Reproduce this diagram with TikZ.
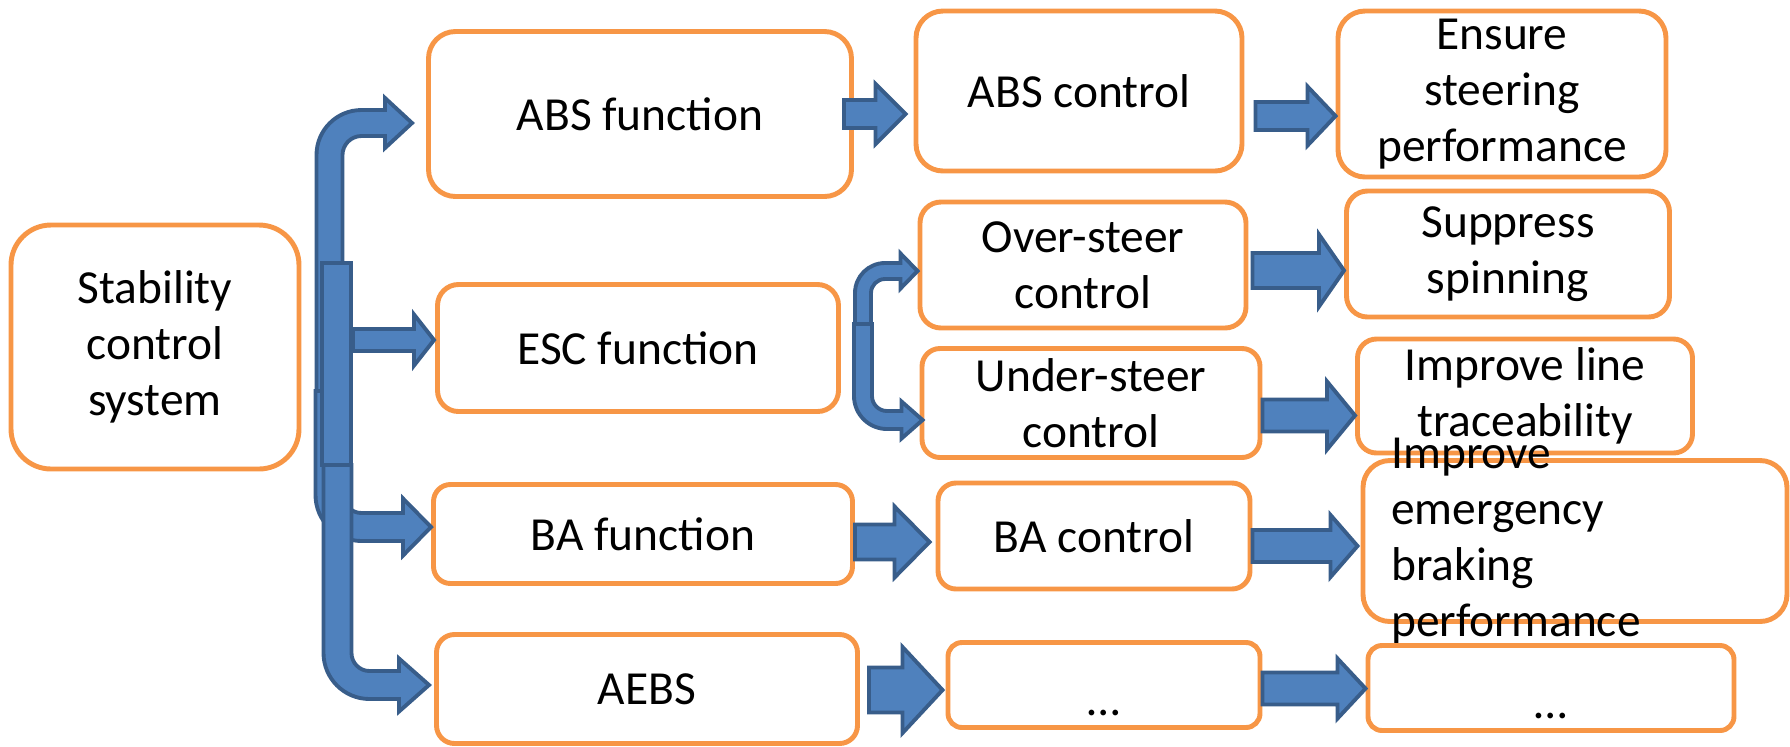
\documentclass[tikz,border=0pt]{standalone}
\usepackage{fontspec}
\setmainfont{Carlito}
\usetikzlibrary{calc}
\definecolor{boxorange}{HTML}{F79646}
\definecolor{arrfill}{HTML}{4F81BD}
\definecolor{arrline}{HTML}{385D8A}
\newcommand{\lbl}{\fontsize{13.5}{16}\selectfont}
\tikzset{
  shaft/.store in=\aShaft, headw/.store in=\aHeadW,
  headl/.store in=\aHeadL, bendr/.store in=\aBend,
  shaft=1.5mm, headw=3.2mm, headl=2.8mm, bendr=3.2mm,
  box/.style ={draw=boxorange,line width=1.4pt,fill=white,rounded corners=2.7mm,
               align=center,font=\lbl,inner sep=0pt},
  dots/.style={box,rounded corners=1.4mm,minimum height=8.5mm,
               text height=17.6pt,text depth=0pt},
  txt/.style ={align=left,font=\lbl,inner sep=0pt},
  blk/.style ={fill=arrfill,draw=arrline,line width=1.1pt,line join=miter},
  fat/.style ={blk,to path={let \p1=(\tikztostart),\p2=(\tikztotarget) in
      (\x1,{\y1+\aShaft}) -- ({\x2-\aHeadL},{\y1+\aShaft})
      -- ({\x2-\aHeadL},{\y1+\aHeadW}) -- (\x2,\y1)
      -- ({\x2-\aHeadL},{\y1-\aHeadW}) -- ({\x2-\aHeadL},{\y1-\aShaft})
      -- (\x1,{\y1-\aShaft}) -- cycle}},
  bent/.style={blk,to path={let \p1=(\tikztostart),\p2=(\tikztotarget),
      \n1={sign(\y2-\y1)},\n2={\aBend+\aShaft},\n3={\aBend-\aShaft} in
      ({\x1-\aShaft},\y1) -- ({\x1-\aShaft},{\y2-(\n1)*\aBend})
      .. controls ({\x1-\aShaft},{\y2-(\n1)*(\aBend-0.552*\n2)})
             and ({\x1+\aBend-0.552*\n2},{\y2+(\n1)*\aShaft}) ..
      ({\x1+\aBend},{\y2+(\n1)*\aShaft})
      -- ({\x2-\aHeadL},{\y2+(\n1)*\aShaft}) -- ({\x2-\aHeadL},{\y2+(\n1)*\aHeadW})
      -- (\x2,\y2)
      -- ({\x2-\aHeadL},{\y2-(\n1)*\aHeadW}) -- ({\x2-\aHeadL},{\y2-(\n1)*\aShaft})
      -- ({\x1+\aBend},{\y2-(\n1)*\aShaft})
      .. controls ({\x1+\aBend-0.552*\n3},{\y2-(\n1)*\aShaft})
             and ({\x1+\aShaft},{\y2-(\n1)*(\aBend-0.552*\n3)}) ..
      ({\x1+\aShaft},{\y2-(\n1)*\aBend}) -- ({\x1+\aShaft},\y1) -- cycle}},
}

\begin{document}
\begin{tikzpicture}[x=0.1mm,y=-0.1mm]
\useasboundingbox (0,0) rectangle (1790,746);
% system
\node[box,rounded corners=4mm,minimum width=28.8mm,minimum height=24.4mm] (SCS) at (155,347) {Stability\\control\\system};

% ---- functions ---------------------------------------------------------
\node[box,minimum width=42.3mm,minimum height=16.5mm] (ABSF) at (640,114) {ABS function};
\node[box,rounded corners=2.1mm,minimum width=40.1mm,minimum height=12.7mm] (ESCF) at (638,348) {ESC function};
\node[box,rounded corners=1.7mm,minimum width=41.9mm,minimum height=9.9mm] (BAF) at (643,534) {BA function};
\node[box,rounded corners=1.8mm,minimum width=42.1mm,minimum height=10.9mm] (AEBS) at (647,689) {AEBS};

% ---- controls ----------------------------------------------------------
\node[box,minimum width=32.6mm,minimum height=16mm] (ABSC) at (1079,91) {ABS control};
\node[box,rounded corners=2.1mm,minimum width=32.6mm,minimum height=12.6mm] (OVR) at (1083,265) {Over-steer\\control};
\node[box,rounded corners=1.8mm,minimum width=33.8mm,minimum height=10.9mm] (UND) at (1091,403) {Under-steer\\control};
\node[box,rounded corners=1.8mm,minimum width=31.2mm,minimum height=10.6mm] (BAC) at (1094,536) {BA control};
\node[dots,minimum width=31.2mm] (DOT1) at (1104,685) {…};

% ---- effects -----------------------------------------------------------
\node[box,minimum width=32.8mm,minimum height=16.6mm] (ENS) at (1502,94) {Ensure\\steering\\performance};
\node[box,rounded corners=2.1mm,minimum width=32.3mm,minimum height=12.6mm] (SUP) at (1508,254) {Suppress\\spinning};
\node[box,rounded corners=1.9mm,minimum width=33.5mm,minimum height=11.4mm] (IMPL) at (1525,396) {Improve line\\traceability};
\node[box,minimum width=42.4mm,minimum height=16.1mm] (EMB) at (1575,541) {};
\node[txt,anchor=west] (EMBT) at ([xshift=3mm]EMB.west) {Improve\\emergency\\braking\\performance};
\node[dots,minimum width=36.6mm] (DOT2) at (1551,688) {…};

% ---- trunk from the system ---------------------------------------------
\coordinate (TA) at (329.5,391);
\coordinate (TD) at (337.5,465);
\coordinate (TE) at (863,324);
\draw[bent,shaft=1.3mm,headw=2.5mm,headl=2.7mm] (TA) to ([xshift=-1.4mm,yshift=-0.9mm]ABSF.west);
\draw[bent,shaft=1.4mm,headw=2.85mm,headl=2.8mm] (TA) to ([yshift=0.7mm]BAF.west);
\node[blk,inner sep=0pt,minimum width=2.9mm,minimum height=20.2mm] (BAR) at (336.5,364) {};
\draw[fat,shaft=1.1mm,headw=2.55mm,headl=2mm] ([yshift=2.4mm]BAR.east) to ([xshift=-0.1mm]ESCF.west);
\draw[bent,shaft=1.4mm,headw=2.65mm,headl=3mm] (TD) to ([xshift=-0.5mm,yshift=0.4mm]AEBS.west);

% ESC split
\draw[bent,shaft=0.8mm,headw=1.75mm,headl=1.7mm,bendr=2.2mm] (TE) to ([yshift=-0.6mm]OVR.west);
\draw[bent,shaft=0.9mm,headw=1.85mm,headl=2.1mm,bendr=2.4mm] (TE) to ([xshift=0.3mm,yshift=-1.7mm]UND.west);

% ---- straight arrows ---------------------------------------------------
\draw[fat,shaft=1.4mm,headw=3mm,headl=3mm] ([xshift=-1mm]ABSF.east) to ([xshift=-0.8mm]ABSC.west);
\draw[fat,shaft=1.4mm,headw=2.95mm,headl=2.8mm] ([xshift=1.1mm,yshift=-2.5mm]ABSC.east) to (ENS.west);
\draw[fat,shaft=1.75mm,headw=3.6mm,headl=2.5mm] ([xshift=0.4mm,yshift=-0.55mm]OVR.east) to (SUP.west);
\draw[fat,shaft=1.6mm,headw=3.4mm,headl=2.8mm] ([yshift=-1.25mm]UND.east) to (IMPL.west);
\draw[fat,shaft=1.75mm,headw=3.55mm,headl=3.5mm] ([yshift=-0.8mm]BAF.east) to ([xshift=-0.6mm]BAC.west);
\draw[fat,shaft=1.6mm,headw=3.1mm,headl=2.7mm] ([yshift=-1mm]BAC.east) to ([xshift=-0.3mm]EMB.west);
\draw[fat,shaft=2.25mm,headw=4.3mm,headl=4mm] ([xshift=0.9mm,yshift=-0.1mm]AEBS.east) to ([xshift=-0.3mm]DOT1.west);
\draw[fat,shaft=1.6mm,headw=3mm,headl=2.8mm] ([yshift=-0.35mm]DOT1.east) to (DOT2.west);
\end{tikzpicture}
\end{document}
